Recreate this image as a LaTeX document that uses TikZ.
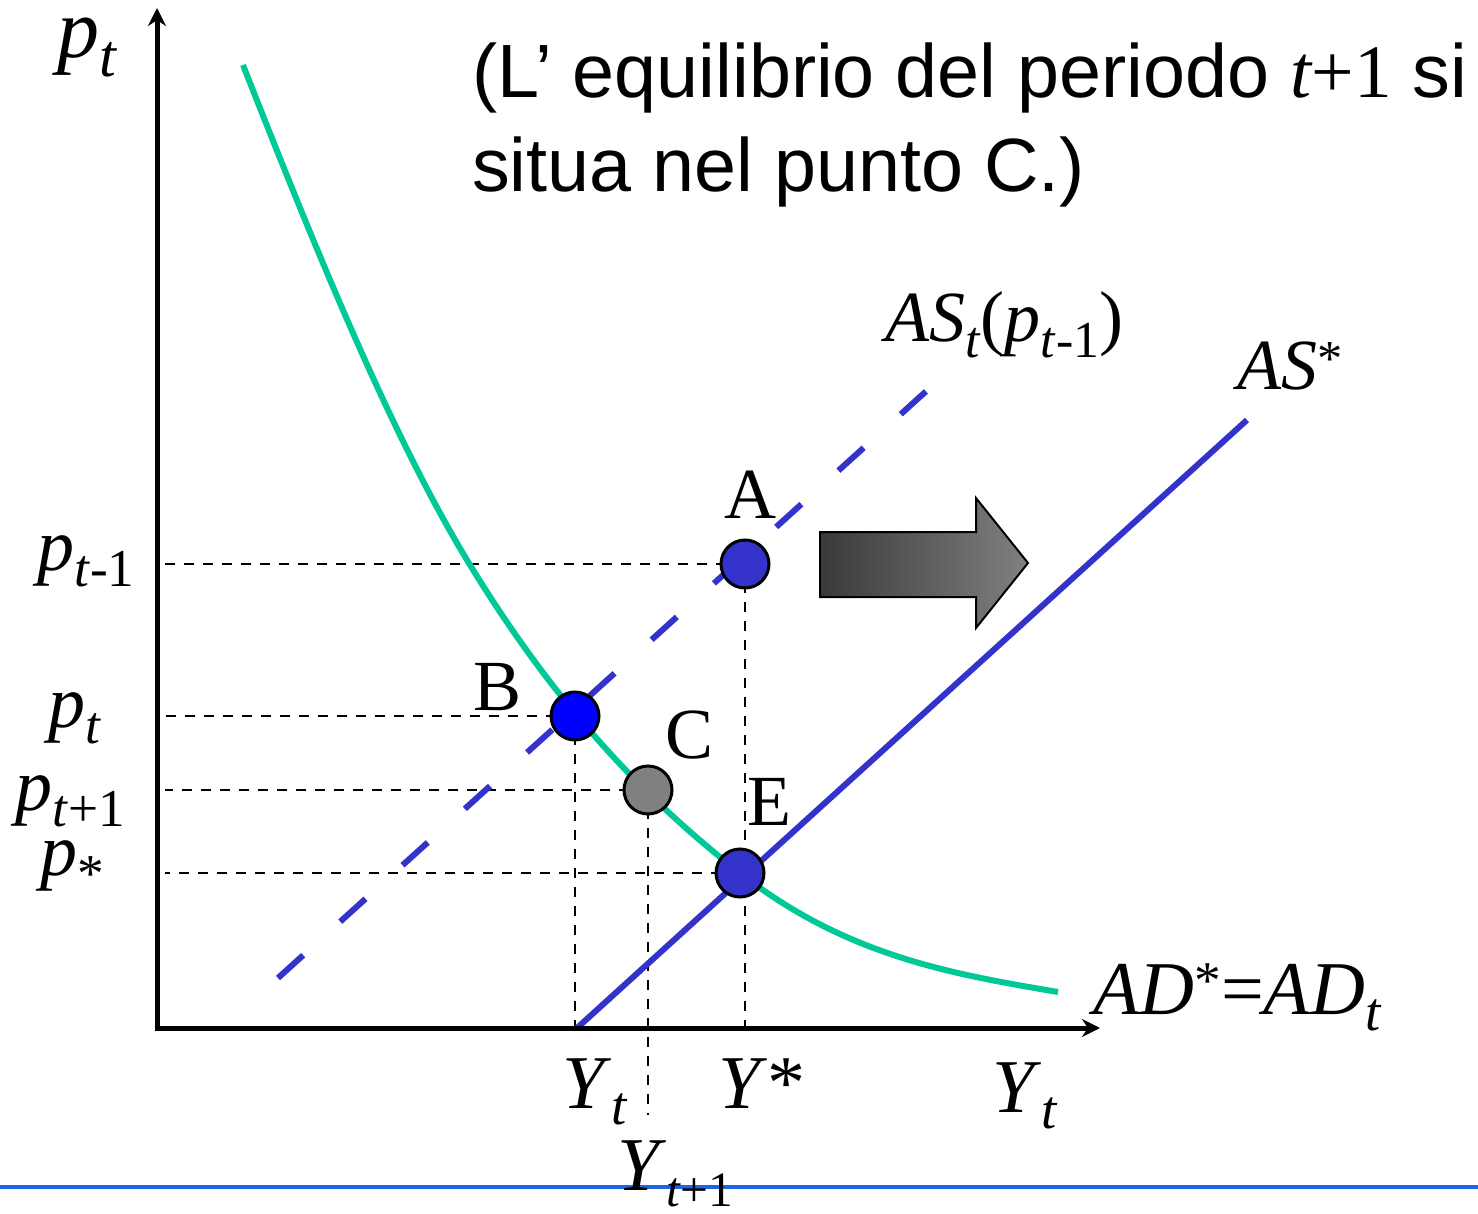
\documentclass[tikz,border=0pt]{standalone}
\usepackage{fontspec}
\usepackage{graphicx}
\setmainfont{Liberation Serif}
\newfontfamily\arialf{Liberation Sans}
\usetikzlibrary{arrows.meta}
\definecolor{adgreen}{RGB}{0,200,150}
\definecolor{asblue}{RGB}{51,51,204}
\definecolor{lineblue}{RGB}{26,102,230}
\definecolor{arrdark}{RGB}{58,58,58}
\definecolor{arrlight}{RGB}{128,128,128}
\newcommand\dn[1]{\raisebox{-0.22em}{\scalebox{0.72}{#1}}}
\newcommand\up[1]{\raisebox{0.2em}{\scalebox{0.7}{#1}}}
\pgfdeclarelayer{bg}
\pgfsetlayers{bg,main}
\begin{document}
\begin{tikzpicture}[x=1pt,y=-1pt,
  lbl/.style={inner sep=0pt, anchor=base west, font=\fontsize{72}{72}\selectfont},
  biglbl/.style={lbl, font=\fontsize{76}{76}\selectfont},
  plbl/.style={lbl, font=\fontsize{74}{74}\selectfont},
  titletxt/.style={inner sep=0pt, anchor=base west, font=\arialf\fontsize{75.5}{75.5}\selectfont},
  eqpt/.style={circle, draw=black, line width=3pt, minimum size=48pt, inner sep=0pt},
  axisline/.style={line width=5pt, black, line join=miter},
  guide/.style={black, line width=2.5pt, dash pattern=on 10pt off 9pt},
  asline/.style={asblue, line width=6pt},
  adline/.style={adgreen, line width=6pt}]
\useasboundingbox (0,0) rectangle (1478,1214);

% equilibrium points
\node[eqpt, fill=asblue] (A) at (745,564) {};
\node[eqpt, fill=blue] (B) at (575,716) {};
\node[eqpt, fill=arrlight] (C) at (648,790) {};
\node[eqpt, fill=asblue] (E) at (740,873) {};

% axis coordinates
\coordinate (ytop) at (157,8);
\coordinate (orig) at (157,1028);
\coordinate (xend) at (1100,1028);
\coordinate (yax) at (165,0);
\coordinate (xax) at (0,1028);
\coordinate (cbot) at (0,1115);
\coordinate (ast1) at (278,978);
\coordinate (ast2) at (933,385);
\coordinate (ass1) at (577,1028);
\coordinate (ass2) at (1247,420);
\coordinate (ad1) at (243,65);
\coordinate (ad2) at (467,560);
\coordinate (ad4) at (1058,992);

\begin{pgfonlayer}{bg}
  % guides
  \draw[guide] (A.center) -- (A.center -| yax);
  \draw[guide] (B.center) -- (B.center -| yax);
  \draw[guide] (C.center) -- (C.center -| yax);
  \draw[guide] (E.center) -- (E.center -| yax);
  \draw[guide] (A.center) -- (A.center |- xax);
  \draw[guide] (B.center) -- (B.center |- xax);
  \draw[guide] (C.center) -- (C.center |- cbot);
  % AS lines
  \draw[asline, dash pattern=on 34pt off 50pt] (ast1) -- (ast2);
  \draw[asline] (ass1) -- (ass2);
  % AD curve
  \draw[adline] (ad1) .. controls (318,256) and (392,436) .. (ad2)
                      .. controls (558,710) and (649,802) .. (E.center)
                      .. controls (846,956) and (952,974) .. (ad4);
  % axes
  \draw[axisline, {Stealth[length=18pt,width=18pt]}-{Stealth[length=18pt,width=18pt]}] (ytop) -- (orig) -- (xend);
  % shift arrow
  \shadedraw[left color=arrdark, right color=arrlight, draw=black, line width=2pt, line join=miter]
    (820,532) -- (976,532) -- (976,498) -- (1028,563) -- (976,628) -- (976,597) -- (820,597) -- cycle;
  % bottom rule
  \draw[lineblue, line width=4pt] (0,1187) -- (1478,1187);
\end{pgfonlayer}

% title
\node[titletxt] (t1) at (472,98) {(L’ equilibrio del periodo {\rmfamily\itshape t}{\rmfamily +1} si};
\node[titletxt] (t2) at (472,192) {situa nel punto C.)};

% axis labels
\node[lbl, font=\fontsize{84}{84}\selectfont] (lpt) at (57,58) {\textit{p}\dn{\textit{t}}};
\node[plbl] (lptm) at (37,570) {\textit{p}\dn{\textit{t}-1}};
\node[plbl] (lpt2) at (48,727) {\textit{p}\dn{\textit{t}}};
\node[plbl] (lptp) at (15,810) {\textit{p}\dn{\textit{t}+1}};
\node[plbl] (lps) at (40,875) {\textit{p}\dn{*}};
\node[biglbl] (lyt) at (562,1108) {\textit{Y}\dn{\textit{t}}};
\node[biglbl] (lys) at (718,1108) {\textit{Y}*};
\node[biglbl] (lytp) at (617,1190) {\textit{Y}\raisebox{-0.22em}{\scalebox{0.65}{\textit{t}+1}}};
\node[biglbl] (lyax) at (992,1112) {\textit{Y}\dn{\textit{t}}};
\node[biglbl] (lad) at (1093,1014) {\textit{AD}\up{*}=\textit{AD}\dn{\textit{t}}};
\node[lbl] (last) at (885,342) {\textit{AS}\dn{\textit{t}}(\textit{p}\dn{\textit{t}-1})};
\node[lbl] (lass) at (1237,390) {\textit{AS}\up{*}};

% point labels
\node[lbl] (la) at (724,518) {A};
\node[lbl] (lb) at (473,710) {B};
\node[lbl] (lc) at (665,758) {C};
\node[lbl] (le) at (747,825) {E};
\end{tikzpicture}
\end{document}
